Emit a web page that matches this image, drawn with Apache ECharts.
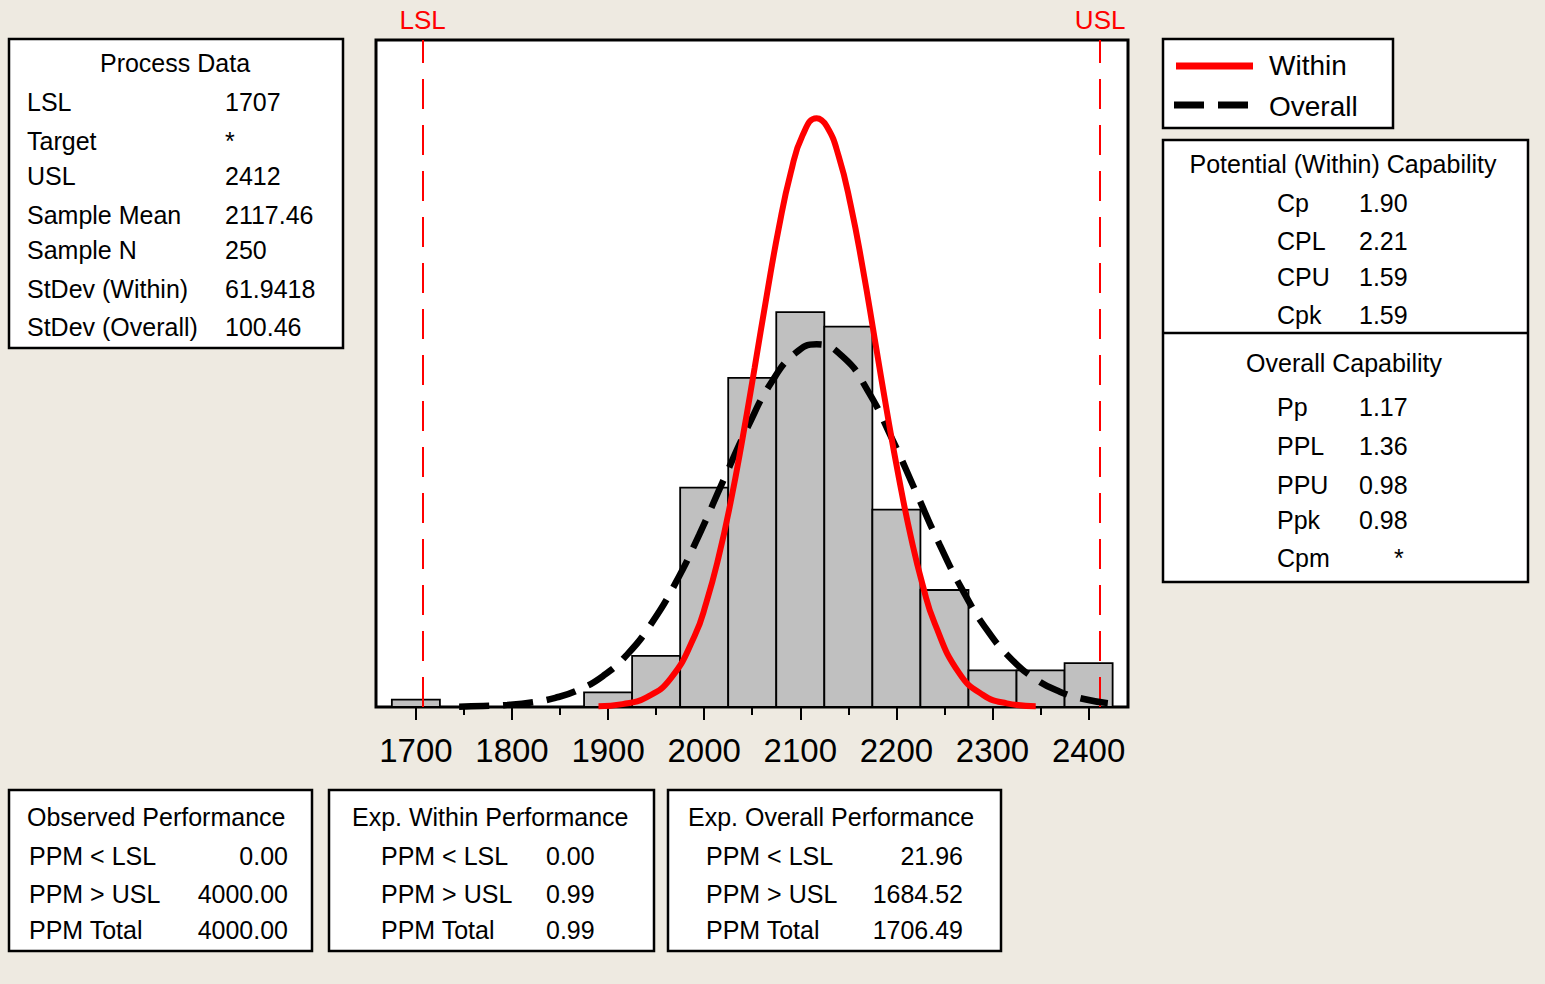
<!DOCTYPE html>
<html><head><meta charset="utf-8">
<script src="https://cdn.jsdelivr.net/npm/echarts@6/dist/echarts.min.js"></script>
<style>html,body{margin:0;padding:0;background:#EEEAE1;}#c{width:1545px;height:984px;}</style>
</head><body><div id="c"></div>
<script>
// ---- data ----
const binStarts = [1675,1725,1775,1825,1875,1925,1975,2025,2075,2125,2175,2225,2275,2325,2375];
const binCounts = [1,0,0,0,2,7,30,45,54,52,27,16,5,5,6];
const binWidth = 50;
const withinX = [1890,1915,1940,1965,1990,2002.5,2015,2027.5,2040,2052.5,2065,2077.5,2090,2102.5,2117,2127.5,2140,2152.5,2165,2177.5,2190,2202.5,2215,2227.5,2240,2265,2290,2315,2345];
const withinY = [0.1,0.39,1.33,3.89,9.7,14.4,20.5,28.0,36.8,46.4,56.2,65.4,73.0,78.2,80.5,79.4,75.3,68.6,60.0,50.3,40.5,31.4,23.3,16.6,11.4,4.7,1.66,0.5,0.11];
const overallX = [1745,1770,1795,1820,1845,1870,1895,1920,1945,1970,1995,2020,2045,2070,2095,2117,2145,2170,2195,2220,2245,2270,2295,2320,2345,2370,2395,2420];
const overallY = [0.05,0.13,0.29,0.62,1.25,2.39,4.27,7.19,11.4,16.9,23.6,31.0,38.2,44.4,48.4,49.6,47.8,43.3,36.8,29.5,22.2,15.7,10.4,6.5,3.81,2.1,1.09,0.53];
const majorTicks = [1700,1800,1900,2000,2100,2200,2300,2400];
const minorTicks = [1750,1850,1950,2050,2150,2250,2350];
const specNames = ['LSL','USL'];
const specValues = [1707,2412];
const legendNames = ['Within','Overall'];

const processTitle = 'Process Data';
const processLabels = ['LSL','Target','USL','Sample Mean','Sample N','StDev (Within)','StDev (Overall)'];
const processValues = ['1707','*','2412','2117.46','250','61.9418','100.46'];
const potentialTitle = 'Potential (Within) Capability';
const potentialLabels = ['Cp','CPL','CPU','Cpk'];
const potentialValues = ['1.90','2.21','1.59','1.59'];
const overallTitle = 'Overall Capability';
const overallLabels = ['Pp','PPL','PPU','Ppk','Cpm'];
const overallValues = ['1.17','1.36','0.98','0.98','*'];
const perfLabels = ['PPM < LSL','PPM > USL','PPM Total'];
const observedTitle = 'Observed Performance';
const observedValues = ['0.00','4000.00','4000.00'];
const expWithinTitle = 'Exp. Within Performance';
const expWithinValues = ['0.00','0.99','0.99'];
const expOverallTitle = 'Exp. Overall Performance';
const expOverallValues = ['21.96','1684.52','1706.49'];

// ---- drawing ----
const FONT = 'Liberation Sans';
const FS = 25;
function txt(t, x, y, align, fs) {
  return { type: 'text', x: x, y: y, z: 10,
    style: { text: t, fontSize: fs || FS, fontFamily: FONT, fill: '#000',
      align: align || 'left', textAlign: align || 'left',
      verticalAlign: 'middle', textVerticalAlign: 'middle' } };
}
function box(x, y, w, h) {
  return { type: 'rect', z: 5, shape: { x: x, y: y, width: w, height: h },
    style: { fill: '#fff', stroke: '#000', lineWidth: 2.5 } };
}
function seg(x1, y1, x2, y2, stroke, lw, dash) {
  return { type: 'line', z: 10, shape: { x1: x1, y1: y1, x2: x2, y2: y2 },
    style: { stroke: stroke, lineWidth: lw, lineDash: dash || null } };
}

const g = [];
// Process data
g.push(box(9, 39, 334, 309));
g.push(txt(processTitle, 175, 63, 'center'));
const pRows = [102,141,176,215,250,289,327];
processLabels.forEach((l, i) => { g.push(txt(l, 27, pRows[i])); g.push(txt(processValues[i], 225, pRows[i])); });
// Legend
g.push(box(1163, 39, 230, 89));
g.push(seg(1176, 66, 1253, 66, '#ff0000', 7));
g.push(seg(1174, 105, 1248, 105, '#000', 7, [30, 14]));
g.push(txt(legendNames[0], 1269, 65, 'left', 28));
g.push(txt(legendNames[1], 1269, 106, 'left', 28));
// Capability
g.push(box(1163, 140, 365, 442));
g.push(seg(1163, 333, 1528, 333, '#000', 2.5));
g.push(txt(potentialTitle, 1343, 164, 'center'));
const cRows = [203,241,277,315];
potentialLabels.forEach((l, i) => { g.push(txt(l, 1277, cRows[i])); g.push(txt(potentialValues[i], 1359, cRows[i])); });
g.push(txt(overallTitle, 1344, 363, 'center'));
const oRows = [407,446,485,520,558];
overallLabels.forEach((l, i) => {
  g.push(txt(l, 1277, oRows[i]));
  g.push(txt(overallValues[i], overallValues[i] === '*' ? 1394 : 1359, oRows[i]));
});
// Bottom performance boxes
const bRows = [856,894,930];
g.push(box(9, 790, 303, 161));
g.push(txt(observedTitle, 27, 817));
perfLabels.forEach((l, i) => { g.push(txt(l, 29, bRows[i])); g.push(txt(observedValues[i], 288, bRows[i], 'right')); });
g.push(box(329, 790, 325, 161));
g.push(txt(expWithinTitle, 352, 817));
perfLabels.forEach((l, i) => { g.push(txt(l, 381, bRows[i])); g.push(txt(expWithinValues[i], 546, bRows[i])); });
g.push(box(668, 790, 333, 161));
g.push(txt(expOverallTitle, 688, 817));
perfLabels.forEach((l, i) => { g.push(txt(l, 706, bRows[i])); g.push(txt(expOverallValues[i], 963, bRows[i], 'right')); });

const chart = echarts.init(document.getElementById('c'), null, { renderer: 'svg' });
const XMIN = 1658.5, XMAX = 2441;
chart.setOption({
  backgroundColor: '#EEEAE1',
  animation: false,
  textStyle: { fontFamily: FONT },
  grid: { left: 376, top: 40, right: 417, bottom: 277, show: true,
    backgroundColor: '#fff', borderColor: '#000', borderWidth: 3 },
  xAxis: [
    { type: 'value', min: XMIN, max: XMAX, position: 'bottom',
      axisLine: { show: true, lineStyle: { color: '#000', width: 2 } },
      axisTick: { show: true, customValues: majorTicks, length: 13, lineStyle: { color: '#000', width: 2 } },
      axisLabel: { customValues: majorTicks, fontSize: 33, color: '#000', margin: 27, fontFamily: FONT,
        formatter: function (v) { return String(v); } },
      splitLine: { show: false } },
    { type: 'value', min: XMIN, max: XMAX, position: 'bottom',
      axisLine: { show: false },
      axisTick: { show: true, customValues: minorTicks, length: 8, lineStyle: { color: '#000', width: 2 } },
      axisLabel: { show: false },
      splitLine: { show: false } }
  ],
  yAxis: { type: 'value', min: 0, max: 91.2, show: false, splitLine: { show: false } },
  graphic: g,
  series: [
    { type: 'custom', name: 'Histogram', xAxisIndex: 0, z: 2,
      data: binStarts.map((s, i) => [s, s + binWidth, binCounts[i]]),
      encode: { x: [0, 1], y: 2 },
      renderItem: function (params, api) {
        const x0 = api.value(0), x1 = api.value(1), c = api.value(2);
        if (!c) return null;
        const p0 = api.coord([x0, c]);
        const p1 = api.coord([x1, 0]);
        return { type: 'rect', shape: { x: p0[0], y: p0[1], width: p1[0] - p0[0], height: p1[1] - p0[1] },
          style: { fill: '#C0C0C0', stroke: '#000', lineWidth: 1.8 } };
      } },
    { type: 'line', name: 'Overall', xAxisIndex: 0, z: 4, clip: false, smooth: true, showSymbol: false,
      data: overallX.map((x, i) => [x, overallY[i]]),
      lineStyle: { color: '#000', width: 6.5, type: [30, 14] } },
    { type: 'line', name: 'Within', xAxisIndex: 0, z: 5, clip: false, smooth: true, showSymbol: false,
      data: withinX.map((x, i) => [x, withinY[i]]),
      lineStyle: { color: '#ff0000', width: 6 },
      markLine: { silent: true, symbol: ['none', 'none'], z: 3,
        lineStyle: { color: '#ff0000', width: 2, type: [30, 16] },
        label: { show: true, position: 'end', formatter: '{b}', color: '#ff0000', fontSize: 26, fontFamily: FONT, distance: 7 },
        emphasis: { disabled: true },
        data: specValues.map((v, i) => ({ name: specNames[i], xAxis: v })) } }
  ]
});
</script></body></html>
